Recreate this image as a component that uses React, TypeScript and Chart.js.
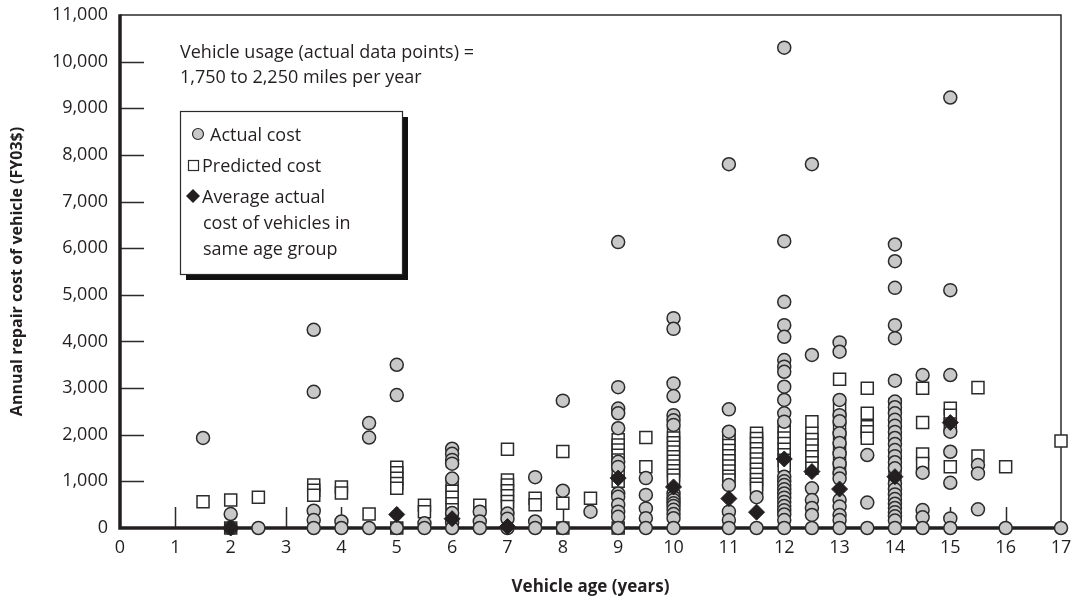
import React, { useEffect, useRef } from 'react';
import { Chart, registerables } from 'chart.js';

Chart.register(...registerables);

const FONT = '"Open Sans", "Noto Sans", sans-serif';
const INK = '#231f20';
const EDGE = '#2b2b2b';

// Axis ranges
const AGE_MIN = 0;
const AGE_MAX = 17;
const COST_MIN = 0;
const COST_MAX = 11000;

// Actual annual repair cost per vehicle, grouped by age (years)
const actualCost: [number, number[]][] = [
  [1.5, [1930]],
  [2, [300, 0]],
  [2.5, [0]],
  [3.5, [4250, 2920, 370, 170, 0]],
  [4, [140, 0]],
  [4.5, [2250, 1940, 0]],
  [5, [3500, 2850, 0]],
  [5.5, [100, 0]],
  [6, [1700, 1590, 1460, 1380, 1060, 320, 120, 0]],
  [6.5, [350, 140, 0]],
  [7, [310, 200, 0]],
  [7.5, [1090, 140, 0]],
  [8, [2730, 800, 0]],
  [8.5, [350]],
  [9, [6130, 3020, 2560, 2460, 2140, 1420, 1310, 740, 670, 500, 350, 240, 0]],
  [9.5, [1070, 710, 420, 210, 0]],
  [10, [4500, 4270, 3100, 2830, 2420, 2310, 2210, 740, 660, 600, 530, 470, 390, 300, 210, 0]],
  [11, [7800, 2545, 2065, 920, 350, 170, 0]],
  [11.5, [660, 0]],
  [12, [10300, 6150, 4850, 4350, 4100, 3600, 3460, 3350, 3030, 2745, 2460, 2280, 1100, 1000, 920, 830, 740, 650, 560, 470, 380, 290, 170, 0]],
  [12.5, [7800, 3710, 850, 600, 430, 280, 0]],
  [13, [3980, 3780, 2745, 2420, 2290, 2030, 1820, 1600, 1380, 1170, 1060, 600, 460, 280, 170, 0]],
  [13.5, [1565, 545, 0]],
  [14, [6080, 5720, 5150, 4350, 4070, 3160, 2710, 2590, 2460, 2320, 2190, 2060, 1930, 1800, 1670, 1540, 1410, 1280, 950, 830, 720, 620, 520, 430, 340, 250, 160, 0]],
  [14.5, [3280, 1185, 385, 230, 0]],
  [15, [9230, 5100, 3280, 2065, 1635, 970, 205, 0]],
  [15.5, [1350, 1170, 400]],
  [16, [0]],
  [17, [0]],
];

// Model-predicted annual repair cost, grouped by age (years)
const predictedCost: [number, number[]][] = [
  [1.5, [565]],
  [2, [600, 0]],
  [2.5, [660]],
  [3.5, [920, 810, 700]],
  [4, [880, 750]],
  [4.5, [300]],
  [5, [1300, 1185, 1065, 955, 850, 0]],
  [5.5, [490, 350]],
  [6, [920, 790, 660, 520, 390]],
  [6.5, [490]],
  [7, [1690, 1030, 920, 800, 690, 570, 460]],
  [7.5, [640, 500]],
  [8, [1640, 530, 0]],
  [8.5, [640]],
  [9, [1890, 1780, 1670, 1560, 1460, 1200, 1000, 0]],
  [9.5, [1940, 1315]],
  [10, [2030, 1930, 1830, 1730, 1630, 1530, 1430, 1330, 1230, 1130, 1030]],
  [11, [1990, 1880, 1770, 1660, 1550, 1440, 1330, 1220, 1110, 1030]],
  [11.5, [2030, 1920, 1810, 1700, 1590, 1480, 1370, 1260, 1150, 1040, 940, 850]],
  [12, [2170, 2050, 1930, 1810, 1690, 1570, 1450, 1330]],
  [12.5, [2280, 2030, 1900, 1780, 1650, 1530, 1400, 1280]],
  [13, [3190, 2560, 2350, 2130, 1920, 1710, 1490, 1280]],
  [13.5, [2995, 2460, 2170, 2065, 1925]],
  [14, [2650, 2250, 1900, 1550, 1350, 1150]],
  [14.5, [2995, 2260, 1585, 1385]],
  [15, [2565, 2420, 2230, 1315]],
  [15.5, [3010, 1545]],
  [16, [1315]],
  [17, [1865]],
];

// Average actual cost of vehicles in the same age group
const averageAge = [2, 5, 6, 7, 9, 10, 11, 11.5, 12, 12.5, 13, 14, 15];
const averageCost = [0, 290, 200, 30, 1070, 880, 630, 340, 1480, 1210, 835, 1100, 2260];

const usageNote = ['Vehicle usage (actual data points) =', '1,750 to 2,250 miles per year'];
const legendLines = ['Actual cost', 'Predicted cost', 'Average actual', 'cost of vehicles in', 'same age group'];

const toPoints = (groups: [number, number[]][]) =>
  groups.flatMap(([age, vals]) => vals.map((v) => ({ x: age, y: v })));

const noScalePadding = (s: any) => {
  s.paddingTop = 0;
  s.paddingBottom = 0;
  s.paddingLeft = 0;
  s.paddingRight = 0;
};

// Plot frame: thick left/bottom axes, thin top/right border and inward tick marks
const framePlugin = {
  id: 'frame',
  beforeDatasetsDraw(chart: any) {
    const { ctx, chartArea, scales } = chart;
    const { left, right, top, bottom } = chartArea;
    const xs = scales.x;
    const ys = scales.y;
    ctx.save();
    ctx.strokeStyle = EDGE;
    ctx.lineWidth = 1.5;
    ctx.beginPath();
    ctx.moveTo(left, top);
    ctx.lineTo(right, top);
    ctx.lineTo(right, bottom);
    ctx.stroke();

    ctx.lineWidth = 1.5;
    ctx.beginPath();
    ys.ticks.forEach((t: any) => {
      if (t.value <= COST_MIN || t.value >= COST_MAX) return;
      const py = Math.round(ys.getPixelForValue(t.value)) + 0.5;
      ctx.moveTo(left, py);
      ctx.lineTo(left + 24, py);
    });
    xs.ticks.forEach((t: any) => {
      if (t.value <= AGE_MIN || t.value >= AGE_MAX) return;
      const px = Math.round(xs.getPixelForValue(t.value)) + 0.5;
      ctx.moveTo(px, bottom);
      ctx.lineTo(px, bottom - 21);
    });
    ctx.stroke();

    ctx.strokeStyle = INK;
    ctx.lineWidth = 3.5;
    ctx.beginPath();
    ctx.moveTo(left, top - 0.75);
    ctx.lineTo(left, bottom);
    ctx.lineTo(right + 0.75, bottom);
    ctx.stroke();
    ctx.restore();
  },
  afterDraw(chart: any) {
    const { ctx } = chart;
    ctx.save();
    ctx.fillStyle = INK;
    ctx.font = `18px ${FONT}`;
    ctx.textBaseline = 'alphabetic';
    ctx.textAlign = 'left';
    ctx.fillText(usageNote[0], 180, 58);
    ctx.fillText(usageNote[1], 180, 83);

    // Legend box with drop shadow
    const bx = 180, by = 111, bw = 222, bh = 163;
    ctx.fillStyle = '#111';
    ctx.fillRect(bx + 6, by + 6, bw, bh);
    ctx.fillStyle = '#ffffff';
    ctx.fillRect(bx, by, bw, bh);
    ctx.strokeStyle = EDGE;
    ctx.lineWidth = 1.2;
    ctx.strokeRect(bx + 0.5, by + 0.5, bw, bh);

    // Legend markers
    ctx.lineWidth = 1.2;
    ctx.beginPath();
    ctx.arc(198, 134, 5.5, 0, Math.PI * 2);
    ctx.fillStyle = '#c8c8c8';
    ctx.fill();
    ctx.strokeStyle = EDGE;
    ctx.stroke();

    ctx.fillStyle = '#ffffff';
    ctx.fillRect(188.5, 160.5, 10, 10);
    ctx.strokeRect(188.5, 160.5, 10, 10);

    ctx.beginPath();
    ctx.moveTo(193, 189);
    ctx.lineTo(200, 196);
    ctx.lineTo(193, 203);
    ctx.lineTo(186, 196);
    ctx.closePath();
    ctx.fillStyle = INK;
    ctx.fill();

    ctx.fillStyle = INK;
    ctx.font = `18px ${FONT}`;
    ctx.fillText(legendLines[0], 210, 141);
    ctx.fillText(legendLines[1], 202, 172);
    ctx.fillText(legendLines[2], 202, 203);
    ctx.fillText(legendLines[3], 203, 229);
    ctx.fillText(legendLines[4], 203, 255);
    ctx.restore();
  },
};

export default function App() {
  const canvasRef = useRef<HTMLCanvasElement | null>(null);

  useEffect(() => {
    const canvas = canvasRef.current;
    if (!canvas) return;
    const chart = new Chart(canvas, {
      type: 'scatter',
      data: {
        datasets: [
          {
            label: 'Average actual cost of vehicles in same age group',
            data: averageAge.map((a, i) => ({ x: a, y: averageCost[i] })),
            pointStyle: 'rectRot',
            pointRadius: 8,
            backgroundColor: INK,
            borderColor: INK,
            borderWidth: 1,
            order: 0,
            clip: false,
          },
          {
            label: 'Actual cost',
            data: toPoints(actualCost),
            pointStyle: 'circle',
            pointRadius: 6.5,
            backgroundColor: '#c8c8c8',
            borderColor: EDGE,
            borderWidth: 1.5,
            order: 1,
            clip: false,
          },
          {
            label: 'Predicted cost',
            data: toPoints(predictedCost),
            pointStyle: 'rect',
            pointRadius: 8.5,
            backgroundColor: '#ffffff',
            borderColor: EDGE,
            borderWidth: 1.5,
            order: 2,
            clip: false,
          },
        ],
      } as any,
      options: {
        animation: false,
        responsive: false,
        maintainAspectRatio: false,
        events: [],
        layout: { padding: { top: 15, right: 12, left: 0, bottom: 0 } },
        plugins: {
          legend: { display: false },
          tooltip: { enabled: false },
        },
        scales: {
          x: {
            type: 'linear',
            min: AGE_MIN,
            max: AGE_MAX,
            border: { display: false },
            grid: { display: false, drawTicks: false },
            ticks: {
              stepSize: 1,
              padding: 9,
              autoSkip: false,
              maxRotation: 0,
              color: INK,
              font: { family: FONT, size: 18 },
            },
            title: {
              display: true,
              text: 'Vehicle age (years)',
              color: INK,
              font: { family: FONT, size: 17, weight: 'bold' },
              padding: { top: 0, bottom: 4 },
            },
            afterFit: (s: any) => {
              s.height = 73;
              noScalePadding(s);
            },
          },
          y: {
            type: 'linear',
            min: COST_MIN,
            max: COST_MAX,
            border: { display: false },
            grid: { display: false, drawTicks: false },
            ticks: {
              stepSize: 1000,
              padding: 12,
              color: INK,
              font: { family: FONT, size: 18 },
              callback: (v: any) => Number(v).toLocaleString('en-US'),
            },
            title: {
              display: true,
              text: 'Annual repair cost of vehicle (FY03$)',
              color: INK,
              font: { family: FONT, size: 16, weight: 'bold' },
              padding: { top: 8, bottom: 0 },
            },
            afterFit: (s: any) => {
              s.width = 120;
              noScalePadding(s);
            },
          },
        },
      } as any,
      plugins: [framePlugin],
    });
    return () => chart.destroy();
  }, []);

  return (
    <div style={{ position: 'fixed', left: 0, top: 0, width: 1073, height: 601, background: '#fff' }}>
      <canvas ref={canvasRef} width={1073} height={601} style={{ display: 'block' }} />
    </div>
  );
}
